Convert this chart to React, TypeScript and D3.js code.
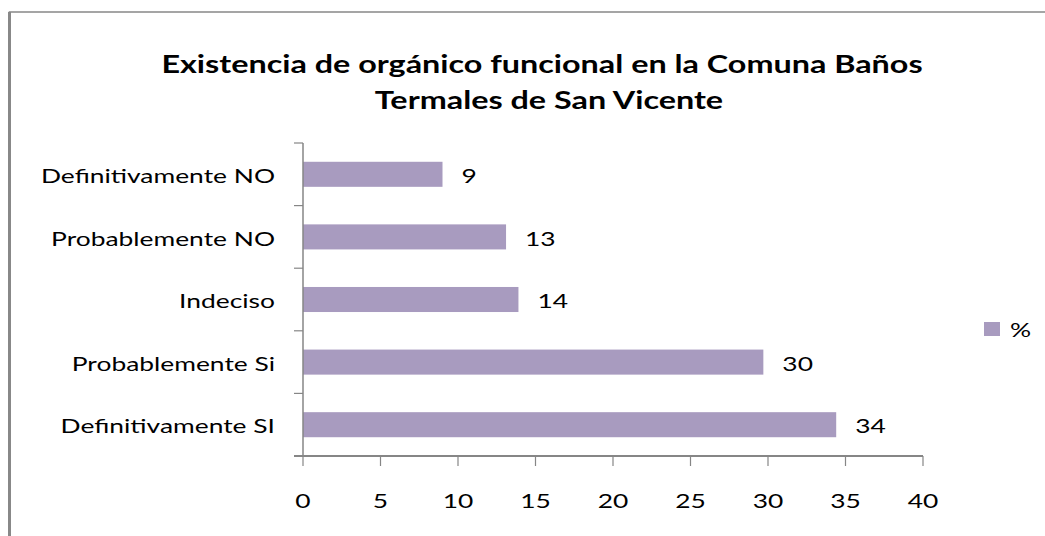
import * as d3 from "d3";

const categories = [
  "Definitivamente NO",
  "Probablemente NO",
  "Indeciso",
  "Probablemente Si",
  "Definitivamente SI",
];
const values = [9, 13.1, 13.9, 29.7, 34.4];
const xTicks = [0, 5, 10, 15, 20, 25, 30, 35, 40];
const titleLines = [
  "Existencia de orgánico funcional en la Comuna  Baños",
  "Termales de San Vicente",
];
const seriesName = "%";

const barColor = "#a89bbf";
const axisColor = "#868686";
const font = "Lato, 'Open Sans', sans-serif";
const sx = 1.32; // the picture is stretched sideways

function SText({ x, y, anchor = "start", size = 20, bold = false, children }: any) {
  return (
    <g transform={`translate(${x},${y}) scale(${sx},1)`}>
      <text
        textAnchor={anchor}
        dominantBaseline="central"
        fontFamily={font}
        fontSize={size}
        fontWeight={bold ? 700 : 400}
        fill="#000"
      >
        {children}
      </text>
    </g>
  );
}

export default function App() {
  const width = 1045;
  const height = 536;

  const x = d3.scaleLinear().domain([0, 40]).range([303, 923]);
  const y = d3
    .scaleBand<string>()
    .domain(categories)
    .range([143, 456])
    .paddingInner(0.6)
    .paddingOuter(0.3);

  const step = y.step();
  const bw = y.bandwidth();
  const bounds = categories.map((c) => (y(c) as number) - (step - bw) / 2);
  bounds.push(y.range()[1]);
  const fmt = d3.format(".0f");
  const x0 = x(0);
  const yBottom = y.range()[1];

  return (
    <svg
      width={width}
      height={height}
      style={{ position: "absolute", left: 0, top: 0, background: "#fff" }}
    >
      {/* frame */}
      <path d={`M9.5,${height} V12 H${width}`} fill="none" stroke="#888" strokeWidth={1.5} />
      <line x1={9.5} y1={12} x2={9.5} y2={height} stroke="#888" strokeWidth={3} />

      {/* title */}
      {titleLines.map((t, i) => (
        <SText key={t} x={542 + i * 7} y={64 + i * 36} anchor="middle" size={24.5} bold>
          {t}
        </SText>
      ))}

      {/* bars */}
      {categories.map((c, i) => (
        <g key={c}>
          <rect x={x0} y={y(c)} width={x(values[i]) - x0} height={bw} fill={barColor} />
          <SText x={x(values[i]) + 19} y={(y(c) as number) + bw / 2 + 1}>
            {fmt(values[i])}
          </SText>
          <SText x={275} y={(y(c) as number) + bw / 2 + 1} anchor="end">
            {c}
          </SText>
        </g>
      ))}

      {/* y axis */}
      <line x1={x0} y1={143} x2={x0} y2={yBottom} stroke={axisColor} strokeWidth={1.5} />
      {bounds.map((b, i) => (
        <line key={i} x1={294} x2={x0} y1={b} y2={b} stroke={axisColor} strokeWidth={1.2} />
      ))}

      {/* x axis */}
      <line x1={294} x2={x(40)} y1={yBottom} y2={yBottom} stroke={axisColor} strokeWidth={2} />
      {xTicks.map((t) => (
        <g key={t}>
          <line x1={x(t)} x2={x(t)} y1={yBottom} y2={yBottom + 10} stroke={axisColor} strokeWidth={1.2} />
          <SText x={x(t)} y={500} anchor="middle">
            {t}
          </SText>
        </g>
      ))}

      {/* legend */}
      <rect x={984} y={322} width={16} height={14} fill={barColor} />
      <SText x={1010} y={329}>
        {seriesName}
      </SText>
    </svg>
  );
}
